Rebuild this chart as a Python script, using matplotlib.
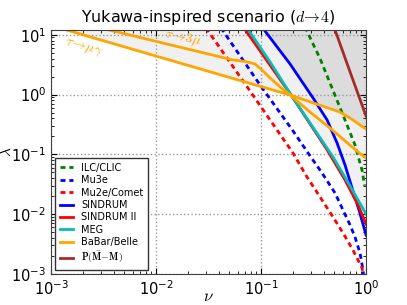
import numpy as np
import matplotlib
matplotlib.use("Agg")
from matplotlib import pyplot as plt

plt.rcParams['mathtext.fontset'] = 'cm'
plt.rcParams['font.family'] = 'DejaVu Sans'

# values (nu, lambda)
# BaBar/Belle: tau -> mu gamma
tmg_nu = [0.001, 0.01, 0.1, 0.189, 0.565, 0.751, 0.877, 1.0]
tmg_lam = [14.3, 4.4, 1.36, 0.985, 0.51, 0.376, 0.31, 0.266]
# BaBar/Belle: tau -> 3 mu
t3m_nu = [0.00293, 0.00389, 0.01, 0.054, 0.0705, 0.0877, 0.102, 0.122, 0.152,
          0.189, 0.293, 0.454, 0.631, 0.839, 1.0]
t3m_lam = [13.0, 11.6, 7.76, 3.79, 3.58, 3.25, 2.58, 1.90, 1.34,
           0.985, 0.51, 0.276, 0.168, 0.11, 0.087]
# MEG
meg_nu = [0.072, 0.0769, 0.122, 0.193, 0.306, 0.485, 0.705, 1.0]
meg_lam = [15.7, 11.6, 3.51, 0.985, 0.299, 0.0906, 0.0296, 0.0101]
# SINDRUM II
s2_nu = [0.068, 0.072, 0.193, 0.426, 0.631, 0.839, 1.0]
s2_lam = [15.5, 11.6, 0.985, 0.119, 0.0373, 0.0143, 0.00686]
# SINDRUM
s1_nu = [0.102, 0.189, 0.313, 0.426, 0.530, 0.631, 0.736, 0.858, 1.0]
s1_lam = [13.5, 3.25, 0.877, 0.376, 0.155, 0.0665, 0.0274, 0.0117, 0.00449]
# Mu2e/Comet
mu2e_nu = [0.0299, 0.0785, 0.142, 0.202, 0.274, 0.365, 0.485, 0.604, 0.751,
           0.916, 0.957]
mu2e_lam = [13.0, 1.15, 0.256, 0.105, 0.0419, 0.0194, 0.00897, 0.00485,
            0.00252, 0.00126, 0.00093]
# Mu3e
mu3e_nu = [0.0416, 0.0978, 0.202, 0.281, 0.381, 0.507, 0.604, 0.705, 0.785,
           0.877, 0.936, 0.957]
mu3e_lam = [13.0, 1.45, 0.246, 0.105, 0.0489, 0.0226, 0.0117, 0.00659,
            0.00416, 0.00224, 0.00117, 0.0008]
# ILC/CLIC
ilc_nu = [0.262, 0.365, 0.631, 0.785, 0.916, 0.97]
ilc_lam = [13.5, 4.0, 0.376, 0.144, 0.0548, 0.03]
# P(Mbar - M)
pm_nu = [0.495, 0.705, 1.0]
pm_lam = [13.5, 2.39, 0.438]

fig = plt.figure(figsize=(4.07, 3.05), dpi=100)
ax = fig.add_axes([0.1253, 0.1016, 0.774, 0.80])
ax.set_xscale('log')
ax.set_yscale('log')

# shaded regions from the current bounds
grid = np.logspace(-3, 0, 600)
lg = np.log10(grid)
current = [(tmg_nu, tmg_lam), (t3m_nu, t3m_lam), (meg_nu, meg_lam),
           (s2_nu, s2_lam), (s1_nu, s1_lam)]
curves = np.array([np.interp(lg, np.log10(n), np.log10(l), left=5, right=-5)
                   for n, l in current])
low = 10 ** curves.min(axis=0)
high = 10 ** curves.max(axis=0)
ax.fill_between(grid, low, 100, color='#f0f0f0', lw=0, zorder=0)
ax.fill_between(grid, np.minimum(high, 100), 100, color='#dcdcdc', lw=0, zorder=0)

dash = (1.8, 1.4)
ax.plot(ilc_nu, ilc_lam, color='g', lw=2, dashes=dash, label='ILC/CLIC')
ax.plot(mu3e_nu, mu3e_lam, color='b', lw=2, dashes=dash, label='Mu3e')
ax.plot(mu2e_nu, mu2e_lam, color='r', lw=2, dashes=dash, label='Mu2e/Comet')
ax.plot(s1_nu, s1_lam, color='b', lw=2, label='SINDRUM')
ax.plot(s2_nu, s2_lam, color='r', lw=2, label='SINDRUM II')
ax.plot(meg_nu, meg_lam, color='c', lw=2, label='MEG')
ax.plot(tmg_nu, tmg_lam, color='orange', lw=2, label='BaBar/Belle')
ax.plot(t3m_nu, t3m_lam, color='orange', lw=2)
ax.plot(pm_nu, pm_lam, color='brown', lw=2,
        label=r'$\mathbf{P}(\bar{\mathbf{M}}\!-\!\mathbf{M})$')

ax.text(0.00205, 6.2, r'$\tau\!\to\!\mu\gamma$', color='orange', fontsize=10,
        rotation=-16, ha='center', va='center')
ax.text(0.0181, 8.9, r'$\tau\!\to\!3\mu$', color='orange', fontsize=10,
        rotation=-12, ha='center', va='center')

ax.set_xlim(1e-3, 1)
ax.set_ylim(1e-3, 12)
ax.grid(True, which='major', color='0.6', linestyle=':', lw=1)
ax.tick_params(which='both', direction='in', top=True, right=True, labelsize=10.5)
ax.tick_params(which='major', length=4)
ax.tick_params(which='minor', length=2)
for s in ax.spines.values():
    s.set_color('0.25')

ax.set_title(r'Yukawa-inspired scenario ($d\!\to\!4$)', fontsize=11.4)
ax.set_xlabel(r'$\nu$', fontsize=12)
ax.set_ylabel(r'$\lambda$', fontsize=11)
ax.xaxis.set_label_coords(0.5, -0.055)
ax.yaxis.set_label_coords(-0.117, 0.5)

leg = ax.legend(loc='lower left', fontsize=7, handlelength=1.4,
                handletextpad=0.8, labelspacing=0.25, borderpad=0.5,
                fancybox=False, framealpha=1, borderaxespad=0.4)
leg.get_frame().set_edgecolor('0.2')

fig.savefig('out.png', dpi=100)
